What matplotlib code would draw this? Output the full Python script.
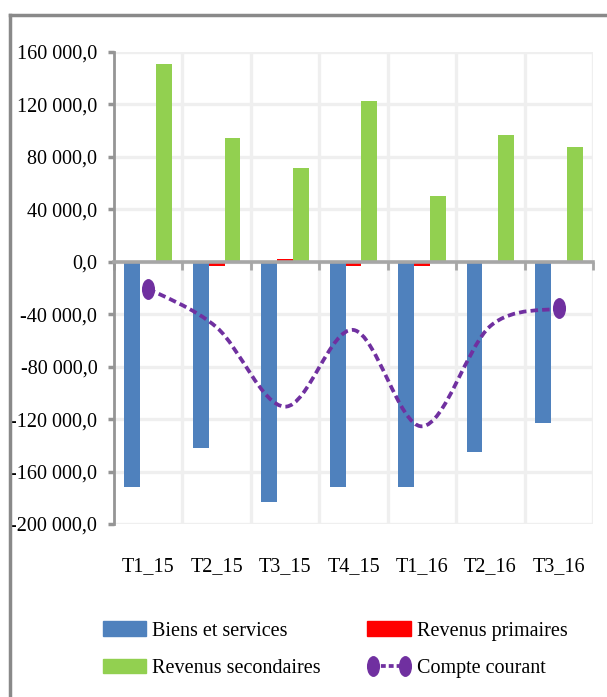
import matplotlib
matplotlib.use("Agg")
import matplotlib.pyplot as plt
import numpy as np
from matplotlib.path import Path
from matplotlib.patches import PathPatch, Patch
from matplotlib.lines import Line2D

# ---------------- data ----------------
categories = ["T1_15", "T2_15", "T3_15", "T4_15", "T1_16", "T2_16", "T3_16"]
biens_services = [-172000, -142000, -183000, -172000, -172000, -145000, -123000]
revenus_primaires = [-500, -3000, 2500, -3000, -3000, -500, -300]
revenus_secondaires = [151000, 94500, 71600, 122800, 50300, 96800, 87600]
compte_courant = [-20500, -50000, -110500, -52000, -125500, -49000, -35600]

ytick_values = [-200000, -160000, -120000, -80000, -40000, 0, 40000, 80000, 120000, 160000]
ytick_labels = ["-200 000,0", "-160 000,0", "-120 000,0", "-80 000,0", "-40 000,0",
                "0,0", "40 000,0", "80 000,0", "120 000,0", "160 000,0"]

labels = ["Biens et services", "Revenus primaires", "Revenus secondaires", "Compte courant"]
c_blue, c_red, c_green, c_purple = "#4F81BD", "#FF0000", "#92D050", "#7030A0"

plt.rcParams["font.family"] = ["Liberation Serif", "DejaVu Serif"]

fig = plt.figure(figsize=(6.07, 6.97), dpi=100)
ax = fig.add_axes([114 / 607, 1 - 524 / 697, 479 / 607, 472 / 697])

x = np.arange(len(categories))
bw = 0.232
ax.bar(x - bw, biens_services, bw, color=c_blue, zorder=3)
ax.bar(x, revenus_primaires, bw, color=c_red, zorder=3)
ax.bar(x + bw, revenus_secondaires, bw, color=c_green, zorder=3)

# smooth (Excel-like) curve for Compte courant using cubic Bezier segments
pts = np.column_stack([x, compte_courant]).astype(float)
ext = np.vstack([pts[0], pts, pts[-1]])
verts = [tuple(pts[0])]
codes = [Path.MOVETO]
for i in range(len(pts) - 1):
    p_prev, p0, p1, p_next = ext[i], ext[i + 1], ext[i + 2], ext[i + 3]
    c1 = p0 + (p1 - p_prev) / 6.0
    c2 = p1 - (p_next - p0) / 6.0
    verts += [tuple(c1), tuple(c2), tuple(p1)]
    codes += [Path.CURVE4] * 3
curve = PathPatch(Path(verts, codes), facecolor="none", edgecolor=c_purple,
                  lw=2.7, linestyle=(0, (2.0, 1.1)), zorder=4)
ax.add_patch(curve)

ell = Path(Path.unit_circle().vertices * np.array([0.6, 1.0]), Path.unit_circle().codes)
ax.plot([x[0], x[-1]], [compte_courant[0], compte_courant[-1]], ls="none",
        marker=ell, ms=14, color=c_purple, zorder=5)

ax.set_xlim(-0.5, len(categories) - 0.5)
ax.set_ylim(-200000, 160000)

# grid
for yv in ytick_values:
    ax.axhline(yv, color="#EFEFEF", lw=2.4, zorder=1)
for xv in np.arange(0.5, len(categories), 1.0):
    ax.axvline(xv, color="#EFEFEF", lw=2.4, zorder=1)

for s in ["top", "right"]:
    ax.spines[s].set_visible(False)
ax.spines["left"].set_color("#959595")
ax.spines["left"].set_linewidth(2)
ax.spines["bottom"].set_position(("data", 0))
ax.spines["bottom"].set_color("#A6A6A6")
ax.spines["bottom"].set_linewidth(2.6)
ax.spines["bottom"].set_zorder(3.5)

ax.set_yticks(ytick_values)
ax.set_yticklabels(ytick_labels)
ax.tick_params(axis="y", length=4, width=2.5, color="#959595", labelsize=14.5, pad=8)
ax.set_xticks(np.arange(-0.5, len(categories), 1.0))
ax.set_xticklabels([])
ax.tick_params(axis="x", length=6, width=2, color="#A6A6A6", direction="out")

sec = ax.secondary_xaxis("bottom")
sec.set_xticks(x)
sec.set_xticklabels(categories)
sec.tick_params(length=0, labelsize=14.5, pad=24)
sec.spines["bottom"].set_visible(False)

# chart-area border (partially visible in reference)
fig.add_artist(Line2D([10 / 607, 1.0], [1 - 15 / 697, 1 - 15 / 697], color="#898989", lw=2.5))
fig.add_artist(Line2D([10 / 607, 10 / 607], [0, 1 - 15 / 697], color="#898989", lw=2.5))

handles = [Patch(color=c_blue), Patch(color=c_red), Patch(color=c_green),
           Line2D([], [], color=c_purple, lw=2.7, linestyle=(0, (1.3, 0.8)),
                  marker=ell, ms=14)]
order = [0, 2, 1, 3]
fig.legend([handles[i] for i in order], [labels[i] for i in order], ncol=2,
           loc="upper left", bbox_to_anchor=(85 / 607, 1 - 603 / 697), frameon=False,
           fontsize=14.5, handlelength=2.15, handleheight=0.75, handletextpad=0.3,
           columnspacing=2.3, labelspacing=0.9, numpoints=2)

fig.savefig("out.png", dpi=100)
